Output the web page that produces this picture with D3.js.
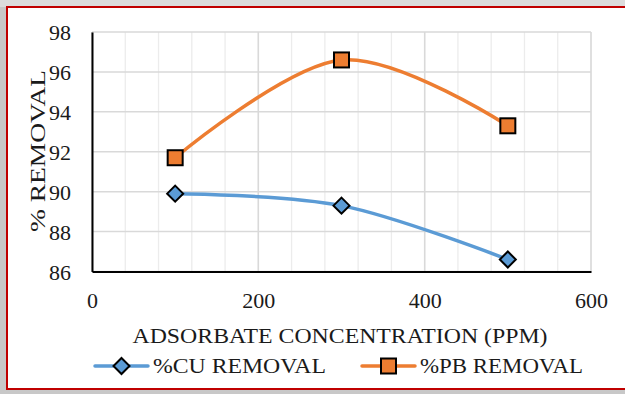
<!DOCTYPE html>
<html><head><meta charset="utf-8">
<script src="https://cdn.jsdelivr.net/npm/d3@7"></script>
<style>
html,body{margin:0;padding:0;background:#cccccc;}
svg{display:block;}
text{font-family:"Liberation Serif","DejaVu Serif",serif;fill:#1a1a1a;}
</style></head>
<body>
<svg id="chart" width="625" height="394"></svg>
<script>
const concentrations = [100, 300, 500];
const cuRemoval = [89.9, 89.3, 86.6];
const pbRemoval = [91.7, 96.6, 93.3];
const xTicks = [0, 200, 400, 600];
const yTicks = [86, 88, 90, 92, 94, 96, 98];
const xMinorTicks = d3.range(0, 601, 40);
const seriesNames = ["%CU REMOVAL", "%PB REMOVAL"];
const xTitle = "ADSORBATE CONCENTRATION (PPM)";
const yTitle = "% REMOVAL";

const svg = d3.select("#chart");
svg.append("rect").attr("width",625).attr("height",394).attr("fill","#c8c8c8");
svg.append("rect").attr("x",0).attr("y",0).attr("width",625).attr("height",7).attr("fill","#dcdcdc");
// chart box
svg.append("rect").attr("x",7).attr("y",7).attr("width",640).attr("height",382)
  .attr("fill","#ffffff").attr("stroke","#c00000").attr("stroke-width",2);

const x = d3.scaleLinear().domain([0,600]).range([92,591]);
const y = d3.scaleLinear().domain([86,98]).range([271.5,32]);

// minor vertical gridlines
svg.append("g").selectAll("line").data(xMinorTicks).join("line")
  .attr("x1",d=>x(d)).attr("x2",d=>x(d)).attr("y1",y(98)).attr("y2",y(86))
  .attr("stroke","#ececec").attr("stroke-width",1.3);
// major vertical gridlines
svg.append("g").selectAll("line").data(xTicks).join("line")
  .attr("x1",d=>x(d)).attr("x2",d=>x(d)).attr("y1",y(98)).attr("y2",y(86))
  .attr("stroke","#d9d9d9").attr("stroke-width",1.5);
// horizontal gridlines
svg.append("g").selectAll("line").data(yTicks).join("line")
  .attr("x1",x(0)).attr("x2",x(600)).attr("y1",d=>y(d)).attr("y2",d=>y(d))
  .attr("stroke","#d9d9d9").attr("stroke-width",1.5);

// axes
const xAxis = d3.axisBottom(x).tickValues(xTicks).tickSize(0).tickPadding(21);
const gx = svg.append("g").attr("transform",`translate(0,${y(86)})`).call(xAxis);
gx.select(".domain").attr("stroke","#000").attr("stroke-width",2);
gx.selectAll("text").attr("font-size",22).style("font-family",'"Liberation Serif",serif').attr("fill","#1a1a1a");

const yAxis = d3.axisLeft(y).tickValues(yTicks).tickSize(0).tickPadding(21);
const gy = svg.append("g").attr("transform",`translate(${x(0)},0)`).call(yAxis);
gy.select(".domain").attr("stroke","#000").attr("stroke-width",2);
gy.selectAll("text").attr("font-size",22).style("font-family",'"Liberation Serif",serif').attr("fill","#1a1a1a").attr("dy","0.35em");

// lines
const line = d3.line().x(d=>x(d[0])).y(d=>y(d[1])).curve(d3.curveCardinal.tension(0));
const colors = ["#5b9bd5","#ed7d31"];
const series = [cuRemoval, pbRemoval];
series.forEach((vals,i)=>{
  const pts = concentrations.map((c,j)=>[c,vals[j]]);
  svg.append("path").attr("d",line(pts)).attr("fill","none")
    .attr("stroke",colors[i]).attr("stroke-width",3.5).attr("stroke-linecap","round");
});
function marker(sel, i, cx, cy){
  if(i===0){
    sel.append("path").attr("d",`M${cx},${cy-8}L${cx+8},${cy}L${cx},${cy+8}L${cx-8},${cy}Z`)
      .attr("fill",colors[0]).attr("stroke","#000").attr("stroke-width",2);
  } else {
    sel.append("rect").attr("x",cx-7.5).attr("y",cy-7.5).attr("width",15).attr("height",15)
      .attr("fill",colors[1]).attr("stroke","#000").attr("stroke-width",2);
  }
}
series.forEach((vals,i)=>{
  const gm = svg.append("g");
  concentrations.forEach((c,j)=>marker(gm,i,x(c),y(vals[j])));
});

// titles
svg.append("text").attr("x",340).attr("y",343).attr("text-anchor","middle")
  .attr("font-size",21).attr("textLength",415).attr("lengthAdjust","spacingAndGlyphs").text(xTitle);
svg.append("text").attr("transform","translate(45,151) rotate(-90)").attr("text-anchor","middle")
  .attr("font-size",21).attr("textLength",162).attr("lengthAdjust","spacingAndGlyphs").text(yTitle);

// legend
const legX = [95, 362];
const legW = [173, 163];
seriesNames.forEach((n,i)=>{
  const lg = svg.append("g");
  lg.append("line").attr("x1",legX[i]).attr("x2",legX[i]+53).attr("y1",366).attr("y2",366)
    .attr("stroke",colors[i]).attr("stroke-width",3.5).attr("stroke-linecap","round");
  marker(lg,i,legX[i]+26.5,366);
  lg.append("text").attr("x",legX[i]+58).attr("y",373).attr("font-size",21)
    .attr("textLength",legW[i]).attr("lengthAdjust","spacingAndGlyphs").text(n);
});
</script>
</body></html>
